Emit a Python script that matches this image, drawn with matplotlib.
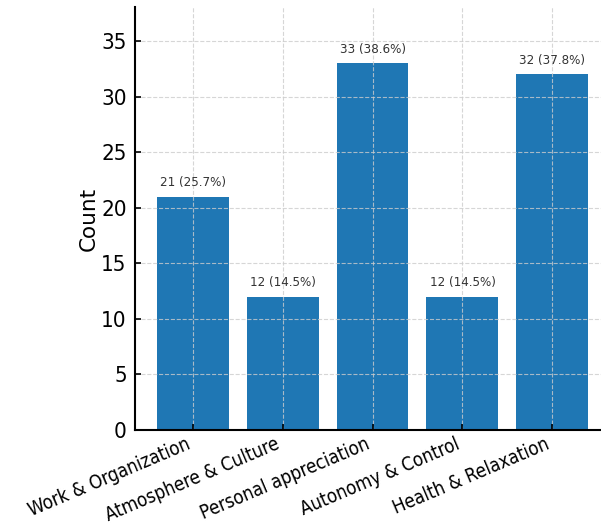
import matplotlib
matplotlib.use("Agg")
import matplotlib.pyplot as plt

categories = ["Work & Organization", "Atmosphere & Culture", "Personal appreciation",
              "Autonomy & Control", "Health & Relaxation"]
counts = [21, 12, 33, 12, 32]
percents = [25.7, 14.5, 38.6, 14.5, 37.8]
yticks = [0, 5, 10, 15, 20, 25, 30, 35]

plt.rcParams['font.family'] = ['DejaVu Sans']
plt.rcParams['font.stretch'] = 'condensed'

fig = plt.figure(figsize=(6.01, 5.29), dpi=100)
ax = fig.add_axes([135/601, 99/529, 475/601, 423/529])

x = range(len(categories))
bars = ax.bar(x, counts, width=0.8, color="#1f77b4")
for b, c, p in zip(bars, counts, percents):
    ax.text(b.get_x() + b.get_width()/2, c + 0.65, f"{c} ({p}%)",
            ha="center", va="bottom", fontsize=9.5, color="#333333")

ax.set_ylim(0, 38.06)
ax.set_yticks(yticks)
ax.set_xticks(list(x))
ax.set_xticklabels(categories, rotation=23, ha="right", fontsize=13.5)
ax.tick_params(axis="both", direction="in", length=4, width=1.2)
ax.tick_params(axis="y", labelsize=16, pad=6)
ax.tick_params(axis="x", pad=3)
ax.set_ylabel("Count", fontsize=15.5, stretch='normal', labelpad=2)
ax.grid(True, linestyle="--", color="#cccccc", alpha=0.8)
ax.spines["top"].set_visible(False)
ax.spines["right"].set_visible(False)
ax.spines["left"].set_linewidth(1.5)
ax.spines["bottom"].set_linewidth(1.5)

fig.savefig("out.png", dpi=100)
